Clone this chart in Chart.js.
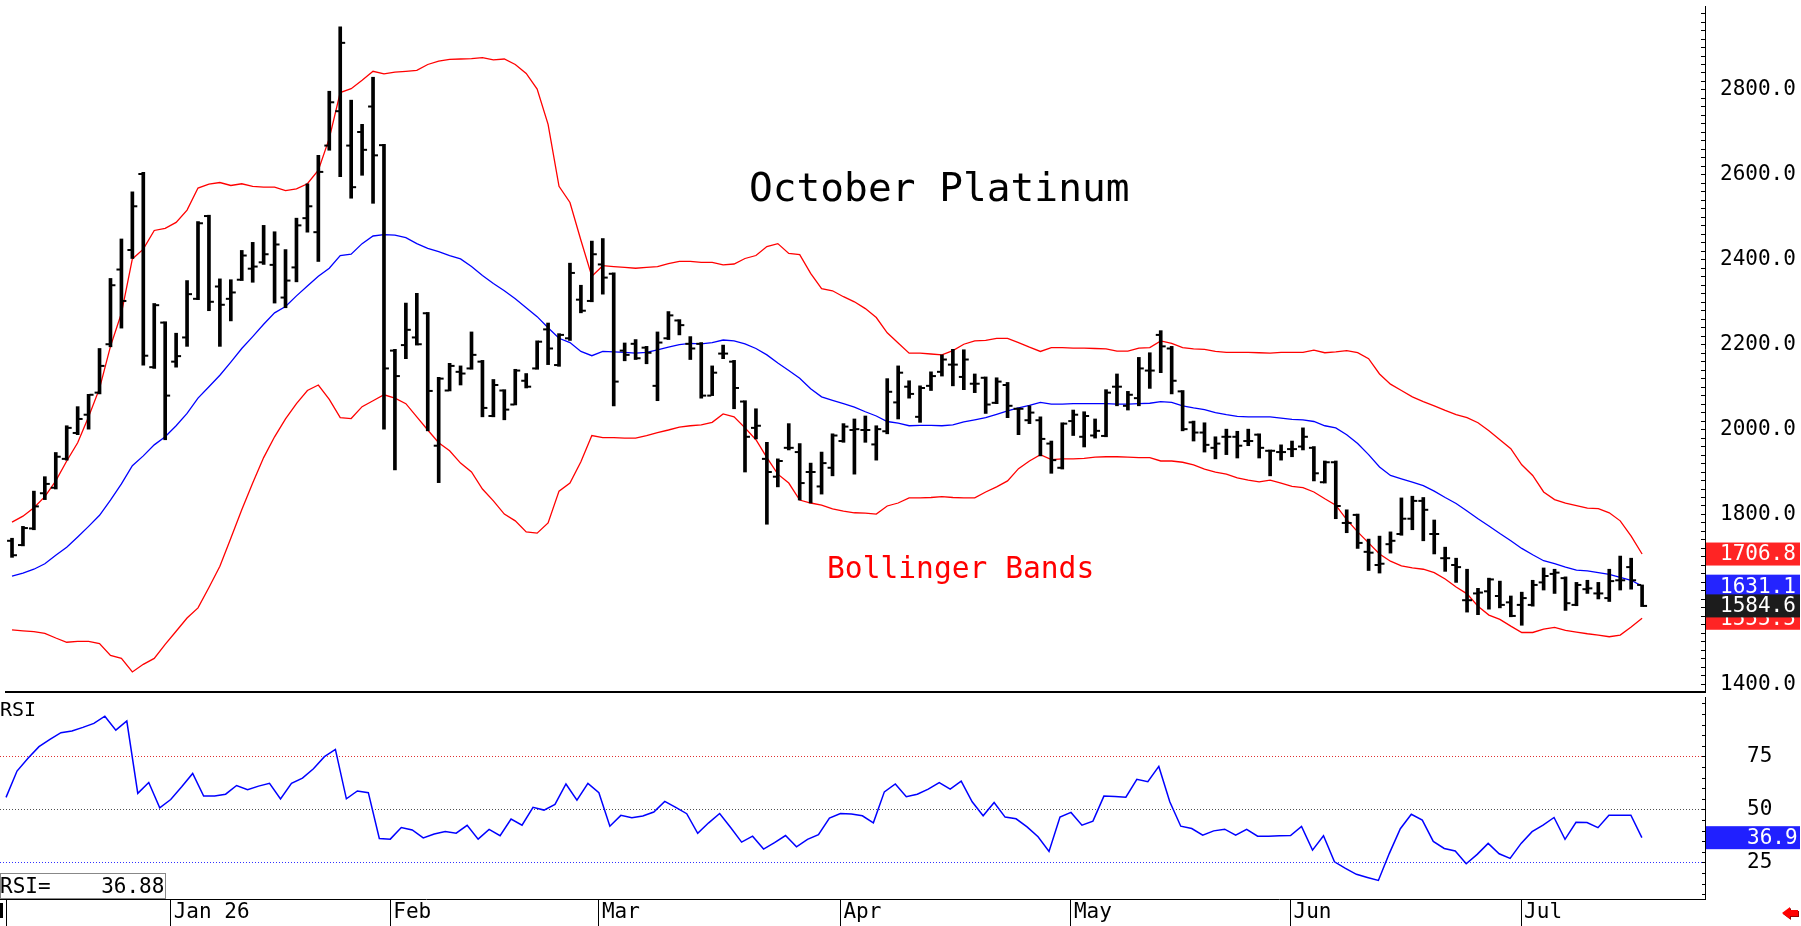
<!DOCTYPE html>
<html>
<head>
<meta charset="utf-8">
<title>October Platinum</title>
<script src="https://cdn.jsdelivr.net/npm/chart.js@4.4.1/dist/chart.umd.min.js"></script>
<style>
  html, body { margin: 0; padding: 0; background: #fff; }
  #wrap { position: relative; width: 1801px; height: 926px; overflow: hidden; }
  #price { position: absolute; left: 0; top: 0; }
  #rsi { position: absolute; left: 0; top: 697px; }
</style>
</head>
<body>
<div id="wrap">
  <canvas id="price" width="1801" height="698"></canvas>
  <canvas id="rsi" width="1801" height="229"></canvas>
</div>
<script>
// daily bars, Dec 2025 .. mid Jul 2026 (index = trading day)
const monthStarts = [0, 15, 35, 54, 76, 97, 117, 138];
const monthLabels = ['', 'Jan 26', 'Feb', 'Mar', 'Apr', 'May', 'Jun', 'Jul'];

const opens = [1738,1728,1767,1850,1863,1931,1992,2035,2087,2201,2377,2423,2602,2147,2252,2160,2217,2308,2503,2337,
  2308,2353,2379,2394,2388,2311,2382,2498,2465,2669,2750,2669,2701,2761,2670,2186,2199,2217,2274,1962,
  2092,2136,2144,2160,2032,2092,2059,2115,2144,2236,2152,2215,2306,2303,2389,2367,2186,2202,2193,2103,
  2215,2257,2202,2202,2080,2179,2160,2066,2004,1931,1889,1957,1947,1900,1866,1910,1973,1999,1999,1965,
  1996,2064,2101,2030,2103,2136,2153,2124,2108,2122,2063,2105,2049,2022,2022,1967,1910,2020,1983,1986,
  1985,2101,2056,2074,2139,2223,2191,2090,2017,1993,1957,1983,1983,1973,1988,1950,1947,1954,1960,1957,
  1876,1923,1780,1799,1712,1681,1730,1754,1790,1832,1754,1697,1681,1598,1614,1619,1608,1593,1587,1587,
  1640,1660,1650,1587,1624,1614,1603,1645,1676,1634];
const highs = [1744,1772,1855,1889,1946,2009,2054,2083,2191,2356,2449,2560,2606,2297,2254,2227,2351,2490,2505,2355,
  2353,2422,2441,2481,2466,2424,2498,2579,2646,2797,2949,2776,2719,2830,2672,2189,2298,2321,2276,2123,
  2156,2150,2230,2163,2118,2094,2142,2132,2209,2251,2226,2392,2340,2444,2450,2369,2204,2212,2196,2230,
  2278,2259,2219,2205,2150,2199,2163,2068,2049,1970,1931,2014,1967,1921,1947,1990,2014,2025,2032,2009,
  2120,2150,2115,2103,2136,2176,2189,2188,2131,2124,2122,2111,2051,2056,2030,1973,2016,2046,2042,2025,
  2094,2131,2090,2170,2181,2233,2196,2092,2020,2016,1983,2001,1996,2001,1990,1952,1964,1973,2004,1960,
  1926,1926,1811,1801,1742,1749,1759,1839,1843,1840,1787,1723,1697,1671,1626,1650,1643,1608,1617,1645,
  1674,1671,1653,1640,1645,1640,1671,1702,1697,1634];
const lows = [1699,1726,1764,1835,1860,1928,1988,2001,2084,2195,2239,2403,2152,2144,1976,2147,2196,2306,2280,2196,
  2256,2351,2347,2389,2298,2287,2348,2465,2396,2658,2596,2545,2599,2533,2001,1905,2167,2199,1997,1875,
  2091,2105,2142,2030,2030,2023,2058,2098,2142,2153,2149,2210,2275,2301,2319,2056,2162,2165,2155,2068,
  2212,2223,2165,2074,2080,2167,2049,1900,1978,1777,1865,1952,1834,1827,1848,1891,1970,1895,1970,1928,
  1990,2025,2074,2017,2092,2126,2103,2094,2087,2038,2061,2028,1988,2014,1938,1897,1907,1986,1959,1980,
  1983,2056,2046,2056,2097,2134,2084,1997,1973,1947,1931,1941,1933,1962,1933,1891,1928,1936,1952,1879,
  1874,1790,1757,1720,1668,1662,1709,1751,1764,1738,1707,1666,1640,1570,1564,1577,1580,1559,1539,1584,
  1622,1614,1574,1585,1614,1601,1595,1622,1624,1583];
const closes = [1704,1768,1819,1872,1936,2004,2025,2082,2150,2340,2303,2526,2174,2293,2080,2173,2319,2486,2301,2294,
  2323,2410,2384,2413,2436,2351,2481,2526,2607,2771,2911,2571,2659,2646,2144,2126,2235,2201,2091,2120,
  2150,2132,2176,2051,2105,2047,2139,2101,2207,2191,2223,2369,2280,2413,2358,2113,2176,2168,2181,2205,
  2269,2246,2191,2080,2134,2179,2098,1983,2009,1900,1926,1957,1874,1900,1921,1986,2007,2001,1999,2001,
  2089,2134,2084,2098,2126,2165,2153,2165,2108,2059,2113,2056,2049,2040,1978,1928,2014,2035,2032,1997,
  2087,2101,2082,2144,2139,2196,2115,2001,1993,1964,1967,1983,1962,1973,1957,1950,1947,1954,1983,1897,
  1923,1820,1780,1733,1710,1684,1738,1790,1832,1811,1754,1697,1676,1598,1616,1647,1587,1561,1603,1634,
  1655,1663,1591,1634,1626,1614,1643,1645,1645,1584.6];

// Bollinger bands as drawn
const upperBand = [1782,1796,1816,1842,1879,1926,1969,2030,2097,2196,2274,2402,2425,2469,2474,2488,2517,2569,2578,2582,
  2575,2579,2573,2571,2571,2563,2567,2579,2611,2686,2794,2803,2823,2844,2838,2842,2844,2846,2860,2868,
  2872,2873,2874,2876,2871,2873,2860,2839,2802,2719,2573,2535,2446,2361,2386,2384,2382,2380,2382,2384,
  2391,2396,2396,2394,2394,2388,2390,2403,2410,2431,2438,2415,2412,2368,2332,2327,2313,2301,2285,2264,
  2228,2204,2180,2180,2178,2176,2186,2201,2209,2210,2215,2215,2205,2194,2184,2193,2193,2192,2192,2191,
  2190,2185,2185,2192,2193,2209,2203,2193,2190,2189,2184,2182,2182,2182,2181,2180,2182,2182,2182,2187,
  2181,2183,2186,2181,2167,2131,2107,2092,2077,2066,2056,2045,2035,2028,2016,1997,1976,1955,1917,1892,
  1853,1835,1827,1821,1815,1814,1804,1785,1749,1706.8];
const middleBand = [1655,1662,1671,1684,1704,1723,1747,1772,1798,1834,1872,1915,1938,1964,1983,2009,2038,2074,2101,2128,
  2159,2191,2219,2248,2275,2290,2315,2338,2361,2380,2410,2413,2438,2456,2459,2458,2452,2438,2427,2419,
  2410,2402,2384,2363,2344,2327,2308,2287,2266,2240,2215,2205,2184,2174,2184,2183,2182,2180,2182,2188,
  2194,2200,2203,2202,2205,2211,2209,2202,2191,2176,2157,2139,2121,2096,2077,2069,2061,2053,2042,2032,
  2019,2015,2009,2010,2010,2009,2011,2018,2023,2028,2036,2044,2051,2057,2064,2060,2060,2061,2061,2061,
  2061,2060,2060,2061,2062,2066,2064,2056,2051,2047,2040,2035,2031,2030,2030,2030,2027,2024,2023,2019,
  2009,2004,1988,1967,1941,1912,1892,1884,1876,1868,1855,1840,1826,1808,1790,1773,1755,1738,1720,1705,
  1691,1684,1676,1669,1667,1663,1659,1652,1645,1631.1];
const lowerBand = [1528,1526,1524,1520,1509,1499,1501,1501,1496,1468,1461,1429,1447,1461,1494,1525,1556,1580,1628,1678,
  1744,1811,1874,1934,1983,2025,2061,2092,2105,2071,2028,2026,2054,2068,2082,2074,2061,2030,1999,1969,
  1950,1921,1900,1860,1832,1801,1785,1759,1756,1780,1855,1874,1924,1986,1981,1981,1980,1980,1986,1993,
  1999,2006,2009,2011,2017,2037,2030,2004,1976,1934,1895,1874,1834,1827,1822,1813,1808,1804,1803,1801,
  1820,1827,1839,1839,1840,1842,1840,1839,1839,1853,1865,1879,1908,1926,1941,1929,1931,1931,1932,1935,
  1936,1936,1935,1934,1934,1926,1926,1923,1917,1907,1900,1895,1886,1881,1877,1881,1874,1866,1863,1853,
  1837,1822,1788,1759,1733,1707,1690,1679,1674,1671,1663,1648,1629,1613,1584,1563,1553,1537,1522,1522,
  1530,1534,1527,1523,1519,1516,1512,1516,1535,1555.5];

const rsi = [55.9,68.3,74.3,79.8,83.2,86.4,87.2,88.9,90.8,94.2,87.6,91.9,57.8,62.9,51.0,54.9,60.9,67.2,56.5,56.5,
  57.4,61.5,59.5,61.2,62.5,55.2,62.5,65.0,69.4,75.1,78.5,55.2,58.9,58.1,36.5,36.2,41.7,40.5,36.8,38.6,
  39.8,39.0,42.7,36.2,40.8,37.8,45.7,42.8,51.2,49.9,52.6,62.2,54.6,62.5,58.1,42.3,47.4,46.3,47.1,49.0,
  54.0,51.2,48.2,38.9,43.9,48.3,41.7,34.8,37.6,31.5,34.6,37.9,32.6,36.1,38.3,46.1,48.3,48.0,47.2,43.9,
  58.5,62.2,56.2,57.4,59.8,62.9,59.8,63.6,53.8,47.2,53.5,46.6,45.8,42.0,37.3,30.4,46.6,48.8,42.8,44.7,
  56.5,56.3,56.0,64.4,63.3,70.5,53.8,42.3,41.2,38.1,40.1,40.9,38.1,40.8,37.6,37.6,37.8,37.9,42.2,31.0,
  37.8,25.5,22.4,19.6,18.1,16.7,29.5,41.1,47.9,45.2,35.1,31.8,30.6,24.6,29.0,34.2,29.3,27.1,34.2,39.7,
  42.8,46.4,36.1,44.1,44.0,41.6,47.5,47.5,47.5,36.88];

const priceLabels = [1400, 1600, 1800, 2000, 2200, 2400, 2600, 2800];
const priceMinorStep = 20;
const rsiLabels = [25, 50, 75];
const rsiMinorStep = 5;

const MONO = '"DejaVu Sans Mono", "Liberation Mono", monospace';
const xMin = -0.55, xMax = 154.75;
const tickOffset = 0.27;
const AXIS_W = 96;

const pts = arr => arr.map((v, i) => ({ x: i, y: v }));

function valueBox(ctx, scale, value, bg, textX) {
  const py = scale.getPixelForValue(value);
  ctx.fillStyle = bg;
  ctx.fillRect(scale.left + 1, py - 11.5, AXIS_W - 2, 23);
  ctx.fillStyle = '#fff';
  ctx.font = '21px ' + MONO;
  ctx.textAlign = 'left';
  ctx.textBaseline = 'middle';
  ctx.fillText(value.toFixed(1), textX, py + 1);
}

const priceDecor = {
  id: 'priceDecor',
  afterDraw(chart) {
    const ctx = chart.ctx;
    const y = chart.scales.y;
    ctx.save();
    ctx.textBaseline = 'alphabetic';
    ctx.textAlign = 'left';
    ctx.fillStyle = '#000';
    ctx.font = '39.5px ' + MONO;
    ctx.fillText('October Platinum', 749, 201);
    ctx.fillStyle = '#ff0000';
    ctx.font = '29.6px ' + MONO;
    ctx.fillText('Bollinger Bands', 827, 578);

    const tx = y.left + 15;
    valueBox(ctx, y, upperBand[upperBand.length - 1], '#ff2424', tx);
    valueBox(ctx, y, middleBand[middleBand.length - 1], '#2424ff', tx);
    valueBox(ctx, y, lowerBand[lowerBand.length - 1], '#ff2424', tx);
    valueBox(ctx, y, closes[closes.length - 1], '#1c1c1c', tx);
    ctx.restore();
  }
};

const rsiDecor = {
  id: 'rsiDecor',
  afterDraw(chart) {
    const ctx = chart.ctx;
    const y = chart.scales.y;
    const x = chart.scales.x;
    const last = rsi[rsi.length - 1];
    ctx.save();
    ctx.fillStyle = '#000';
    ctx.font = '20px ' + MONO;
    ctx.textAlign = 'left';
    ctx.textBaseline = 'alphabetic';
    ctx.fillText('RSI', 0, 19);

    ctx.fillStyle = '#fff';
    ctx.fillRect(0, 176, 166, 26);
    ctx.strokeStyle = '#888';
    ctx.lineWidth = 1;
    ctx.strokeRect(0.5, 176.5, 165, 25);
    ctx.fillStyle = '#000';
    ctx.font = '21px ' + MONO;
    ctx.fillText('RSI=    ' + last.toFixed(2), 0, 196);

    // clipped label stub at the far left of the date row
    ctx.fillRect(0, x.top + 4, 3, 15);

    valueBox(ctx, y, last, '#2020ff', y.left + 42);

    // small red scroll arrow, bottom right
    const ax = chart.width - 19, ay = x.top + 14;
    ctx.fillStyle = '#900';
    ctx.beginPath();
    ctx.moveTo(ax + 1, ay + 1); ctx.lineTo(ax + 9, ay - 5); ctx.lineTo(ax + 9, ay - 2);
    ctx.lineTo(ax + 17, ay - 2); ctx.lineTo(ax + 17, ay + 4); ctx.lineTo(ax + 9, ay + 4);
    ctx.lineTo(ax + 9, ay + 7); ctx.closePath(); ctx.fill();
    ctx.fillStyle = '#ff0000';
    ctx.beginPath();
    ctx.moveTo(ax, ay); ctx.lineTo(ax + 8, ay - 6); ctx.lineTo(ax + 8, ay - 3);
    ctx.lineTo(ax + 16, ay - 3); ctx.lineTo(ax + 16, ay + 3); ctx.lineTo(ax + 8, ay + 3);
    ctx.lineTo(ax + 8, ay + 6); ctx.closePath(); ctx.fill();
    ctx.restore();
  }
};

function fixY(s) {
  s.width = AXIS_W;
  s.paddingTop = 0;
  s.paddingBottom = 0;
}

new Chart(document.getElementById('price'), {
  type: 'line',
  data: {
    datasets: [
      { type: 'scatter', data: opens.map((v, i) => ({ x: i - tickOffset, y: v })),
        pointStyle: 'line', pointRadius: 2, borderColor: '#000', borderWidth: 2, showLine: false },
      { type: 'scatter', data: closes.map((v, i) => ({ x: i + tickOffset, y: v })),
        pointStyle: 'line', pointRadius: 2, borderColor: '#000', borderWidth: 2, showLine: false },
      { type: 'bar', data: highs.map((h, i) => ({ x: i, y: [lows[i], h] })),
        backgroundColor: '#000', barThickness: 3, borderWidth: 0 },
      { data: pts(upperBand), borderColor: '#ff0000', borderWidth: 1.3, pointRadius: 0, tension: 0 },
      { data: pts(middleBand), borderColor: '#0000ff', borderWidth: 1.3, pointRadius: 0, tension: 0 },
      { data: pts(lowerBand), borderColor: '#ff0000', borderWidth: 1.3, pointRadius: 0, tension: 0 }
    ]
  },
  options: {
    responsive: false,
    devicePixelRatio: 1,
    animation: false,
    events: [],
    layout: { padding: 0 },
    plugins: { legend: { display: false }, tooltip: { enabled: false } },
    scales: {
      x: {
        type: 'linear', min: xMin, max: xMax, offset: false,
        grid: { display: false, drawTicks: false },
        ticks: { display: false },
        border: { display: true, color: '#000', width: 2 },
        afterFit(s) { s.height = 2; s.paddingLeft = 0; s.paddingRight = 0; }
      },
      y: {
        position: 'right', min: 1381.8, max: 2997.8,
        afterBuildTicks(s) {
          const t = [];
          for (let v = priceLabels[0]; v < s.max; v += priceMinorStep) t.push({ value: v });
          s.ticks = t;
        },
        afterFit: fixY,
        grid: { drawOnChartArea: false, drawTicks: true, tickLength: -4, tickColor: '#000', tickWidth: 1 },
        border: { display: true, color: '#000', width: 1 },
        ticks: {
          padding: 19, color: '#000', font: { family: MONO, size: 21 }, autoSkip: false,
          callback: v => priceLabels.includes(v) ? v.toFixed(1) : ''
        }
      }
    }
  },
  plugins: [priceDecor]
});

new Chart(document.getElementById('rsi'), {
  type: 'line',
  data: {
    datasets: [
      { data: pts(rsi), borderColor: '#0000ff', borderWidth: 1.5, pointRadius: 0, tension: 0 }
    ]
  },
  options: {
    responsive: false,
    devicePixelRatio: 1,
    animation: false,
    events: [],
    layout: { padding: 0 },
    plugins: { legend: { display: false }, tooltip: { enabled: false } },
    scales: {
      x: {
        type: 'linear', min: xMin, max: xMax, offset: false,
        afterBuildTicks(s) { s.ticks = monthStarts.map(v => ({ value: v })); },
        afterFit(s) { s.height = 27; s.paddingLeft = 0; s.paddingRight = 0; },
        grid: { drawOnChartArea: false, drawTicks: true, tickLength: 27, tickColor: '#000', tickWidth: 1 },
        border: { display: true, color: '#000', width: 1 },
        ticks: {
          align: 'start', labelOffset: 3, padding: -26, maxRotation: 0, minRotation: 0, autoSkip: false,
          color: '#000', font: { family: MONO, size: 21 },
          callback: v => monthLabels[monthStarts.indexOf(v)] || ''
        }
      },
      y: {
        position: 'right', min: 7.96, max: 103.24,
        afterBuildTicks(s) {
          const t = [];
          for (let v = 10; v <= 100; v += rsiMinorStep) t.push({ value: v });
          s.ticks = t;
        },
        afterFit: fixY,
        grid: {
          drawOnChartArea: true, drawTicks: true, tickLength: -3, tickColor: '#000', tickWidth: 1, lineWidth: 1,
          color: c => {
            const v = c.tick ? c.tick.value : null;
            if (v === 75) return '#e03030';
            if (v === 50) return '#505050';
            if (v === 25) return '#3030ff';
            return 'rgba(0,0,0,0)';
          }
        },
        border: { display: true, color: '#000', width: 1, dash: [1, 2] },
        ticks: {
          padding: 45, color: '#000', font: { family: MONO, size: 21 }, autoSkip: false,
          callback: v => rsiLabels.includes(v) ? String(v) : ''
        }
      }
    }
  },
  plugins: [rsiDecor]
});
</script>
</body>
</html>
